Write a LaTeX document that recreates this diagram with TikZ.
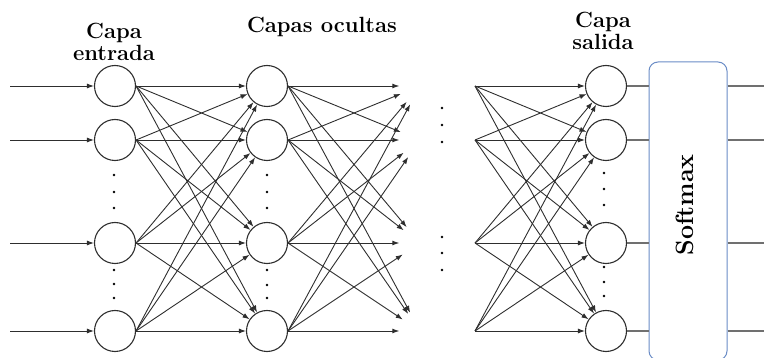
\documentclass[tikz,border=0pt]{standalone}
\usetikzlibrary{arrows.meta,calc}
\definecolor{inkgray}{HTML}{2E2E2E}
\definecolor{wiregray}{HTML}{707070}
\definecolor{softblue}{HTML}{6A8CC6}

\begin{document}
\begin{tikzpicture}[
    x=1pt, y=-1pt,
    >={Latex[length=7pt,width=5pt]},
    neuron/.style={draw=inkgray, circle, minimum size=41pt, inner sep=0pt,
                   line width=1.1pt, fill=white},
    ghost/.style={circle, minimum size=41pt, inner sep=0pt},
    link/.style={->, line width=0.9pt, inkgray},
    wire/.style={line width=1.1pt, wiregray},
    dotmark/.style={fill=black},
    title/.style={font=\fontsize{22}{22}\selectfont\bfseries, align=center},
]
    \useasboundingbox (0,0) rectangle (764,358);

    % ============================================================
    %  LAYERS
    % ============================================================
    \foreach \y [count=\i] in {86,140,243,331} {
        \coordinate (feed\i) at (10,\y);
        \node[neuron] (in\i)  at (115,\y) {};
        \node[neuron] (hid\i) at (267,\y) {};
        \node[ghost]  (nxt\i) at (420,\y) {};
        \coordinate (prev\i) at (475,\y);
        \node[neuron] (out\i) at (606,\y) {};
        \coordinate (res\i) at (764,\y);
    }

    % Layer captions
    \node[title] (capin)  at (114,42) {Capa\\entrada};
    \node[title] (caphid) at (322,27) {Capas ocultas};
    \node[title] (capout) at (603,31) {Capa\\salida};

    % ============================================================
    %  SOFTMAX BLOCK
    % ============================================================
    \node[draw=softblue, line width=1pt, rounded corners=9pt,
          minimum width=78pt, minimum height=298pt] (soft) at (688,211) {};
    \node[rotate=90, font=\fontsize{25}{28}\selectfont\bfseries] (softlbl)
        at (685,205) {Softmax};

    % ============================================================
    %  CONNECTIONS
    % ============================================================
    \foreach \i in {1,...,4} {
        \draw[link] (feed\i) -- (in\i);
        \foreach \j in {1,...,4} {
            \draw[link] (in\i.east) -- (hid\j);
            \draw[link] (hid\i.east) -- (nxt\j);
            \draw[link] (prev\i) -- (out\j);
        }
        \draw[wire] (out\i.east) -- (out\i.east -| soft.west);
        \draw[wire] (soft.east |- out\i) -- (res\i);
    }

    % ============================================================
    %  ELLIPSIS DOTS
    % ============================================================
    \foreach \x/\y in {114/175, 114/192, 114/208, 114/270, 114/284, 114/298,
                       267/175, 267/192, 267/208, 267/270, 267/285, 267/298,
                       442/108, 442/125, 442/142, 442/237, 442/253, 442/270,
                       604/173, 604/189, 604/205, 604/267, 604/282, 604/296}
        \fill[dotmark] (\x,\y) circle (1.3pt);

\end{tikzpicture}
\end{document}
